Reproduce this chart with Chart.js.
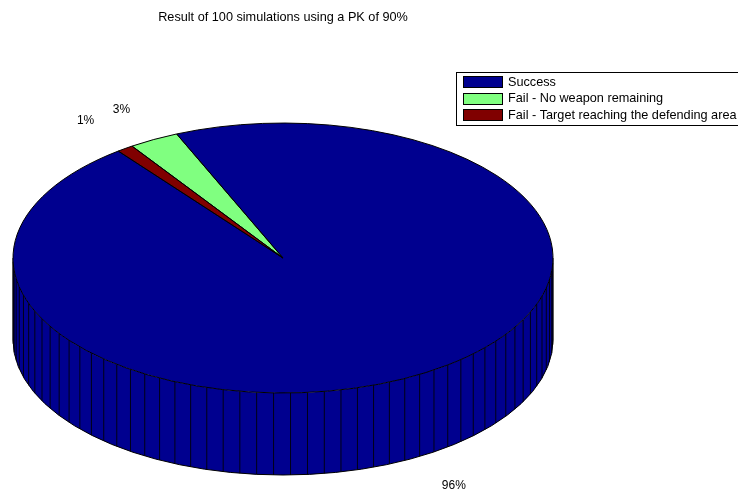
<!DOCTYPE html>
<html>
<head>
<meta charset="utf-8">
<script src="https://cdn.jsdelivr.net/npm/chart.js@4.4.1/dist/chart.umd.min.js"></script>
<style>
  html, body { margin: 0; padding: 0; background: #fff; }
  #wrap { width: 738px; height: 492px; }
</style>
</head>
<body>
<div id="wrap"><canvas id="c"></canvas></div>
<script>
// Outcome categories and how many of the 100 runs ended in each
const categories = ['Success', 'Fail - No weapon remaining', 'Fail - Target reaching the defending area'];
const outcomeCounts = [96, 3, 1];
const sliceColors = ['rgb(0,0,143)', 'rgb(128,255,128)', 'rgb(128,0,0)'];
const chartTitle = 'Result of 100 simulations using a PK of 90%';

const FONT = '"Liberation Sans", Arial, Helvetica, sans-serif';
const TEXT_SIZE = 12.7;        // title and legend
const LABEL_SIZE = 12;         // percentage labels
const DEPTH = 82;              // height of the cylinder wall in px
const LABEL_RADIUS = 1.25;     // percentage labels sit outside the rim
const FACETS_PER_TURN = 100;   // wall is split into facets, 100 per full turn

// Ellipse geometry: the round pie is stretched to fill the chart area
function geometry(chart) {
  const meta = chart.getDatasetMeta(0);
  const a = chart.chartArea;
  const first = meta.data[0];
  return {
    cx: first.x, cy: first.y,
    rx: (a.right - a.left) / 2, ry: (a.bottom - a.top) / 2,
    r: first.outerRadius,
    arcs: meta.data
  };
}

// Chart.js angle (clockwise, unmirrored) -> screen angle after the mirror
const toScreen = phi => phi + Math.PI;

function sliceRange(arc) {
  return [toScreen(arc.startAngle), toScreen(arc.endAngle)];
}

const pie3d = {
  id: 'pie3d',
  beforeDatasetsDraw(chart) {
    const ctx = chart.ctx;
    const g = geometry(chart);
    const ds = chart.data.datasets[0];
    const total = ds.data.reduce((s, v) => s + v, 0);
    const TAU = Math.PI * 2;

    // cylinder wall: only the front half (screen angles pi..2pi) is visible
    ctx.save();
    g.arcs.forEach((arc, i) => {
      const [ts, te] = sliceRange(arc);
      ctx.fillStyle = ds.backgroundColor[i];
      for (let m = -2; m <= 4; m += 2) {
        const off = m * Math.PI;
        const a = Math.max(ts, Math.PI + off);
        const b = Math.min(te, TAU + off);
        if (a < b) {
          const a0 = a - off, b0 = b - off;
          ctx.beginPath();
          ctx.ellipse(g.cx, g.cy, g.rx, g.ry, 0, -a0, -b0, true);
          ctx.ellipse(g.cx, g.cy + DEPTH, g.rx, g.ry, 0, -b0, -a0, false);
          ctx.closePath();
          ctx.fill();
        }
      }
    });

    // facet edges on the wall
    ctx.strokeStyle = 'rgba(0,0,0,0.85)';
    ctx.lineWidth = 1;
    g.arcs.forEach((arc, i) => {
      const [ts, te] = sliceRange(arc);
      const n = Math.max(1, Math.ceil(FACETS_PER_TURN * ds.data[i] / total));
      for (let k = 0; k <= n; k++) {
        const t = ts + k * (te - ts) / n;
        const s = Math.sin(t);
        if (s < -1e-6) {
          const x = g.cx + g.rx * Math.cos(t);
          const y = g.cy - g.ry * s;
          ctx.beginPath();
          ctx.moveTo(x, y);
          ctx.lineTo(x, y + DEPTH);
          ctx.stroke();
        }
      }
    });

    // silhouette of the wall
    ctx.strokeStyle = '#000';
    ctx.beginPath();
    ctx.moveTo(g.cx - g.rx, g.cy);
    ctx.lineTo(g.cx - g.rx, g.cy + DEPTH);
    ctx.ellipse(g.cx, g.cy + DEPTH, g.rx, g.ry, 0, Math.PI, 0, true);
    ctx.lineTo(g.cx + g.rx, g.cy);
    ctx.stroke();
    ctx.restore();

    // top face: mirror horizontally and stretch the library's round pie into the ellipse
    ctx.save();
    ctx.translate(g.cx, g.cy);
    ctx.scale(-g.rx / g.r, g.ry / g.r);
    ctx.translate(-g.cx, -g.cy);
  },
  afterDatasetsDraw(chart) {
    const ctx = chart.ctx;
    ctx.restore();
    const g = geometry(chart);
    const ds = chart.data.datasets[0];
    const total = ds.data.reduce((s, v) => s + v, 0);

    // slice outlines on the top face
    ctx.save();
    ctx.strokeStyle = '#000';
    ctx.lineWidth = 1;
    ctx.lineJoin = 'round';
    g.arcs.forEach(arc => {
      const [ts, te] = sliceRange(arc);
      ctx.beginPath();
      ctx.moveTo(g.cx, g.cy);
      ctx.lineTo(g.cx + g.rx * Math.cos(ts), g.cy - g.ry * Math.sin(ts));
      ctx.ellipse(g.cx, g.cy, g.rx, g.ry, 0, -ts, -te, true);
      ctx.closePath();
      ctx.stroke();
    });

    // percentage labels
    ctx.fillStyle = '#000';
    ctx.font = LABEL_SIZE + 'px ' + FONT;
    ctx.textAlign = 'center';
    ctx.textBaseline = 'middle';
    g.arcs.forEach((arc, i) => {
      const [ts, te] = sliceRange(arc);
      const tm = (ts + te) / 2;
      const s = Math.sin(tm);
      const x = g.cx + LABEL_RADIUS * g.rx * Math.cos(tm);
      const y = g.cy - LABEL_RADIUS * g.ry * s + (s < 0 ? DEPTH : 0);
      ctx.fillText(Math.round(100 * ds.data[i] / total) + '%', x, y);
    });
    ctx.restore();
  }
};

// boxed legend in the upper right corner
const boxLegend = {
  id: 'boxLegend',
  afterDraw(chart) {
    const ctx = chart.ctx;
    const ds = chart.data.datasets[0];
    const labels = chart.data.labels;
    const left = 456, top = 72, rowH = 16.5, firstRow = 10;
    const swX = left + 7, swW = 40, swH = 12, textX = left + 52;
    ctx.save();
    ctx.font = TEXT_SIZE + 'px ' + FONT;
    const widest = Math.max(...labels.map(l => ctx.measureText(l).width));
    const w = textX - left + widest + 6;
    const h = firstRow + (labels.length - 1) * rowH + 10;
    ctx.fillStyle = '#fff';
    ctx.fillRect(left, top, w, h);
    ctx.strokeStyle = '#000';
    ctx.lineWidth = 1;
    ctx.strokeRect(left + 0.5, top + 0.5, w, h);
    ctx.textAlign = 'left';
    ctx.textBaseline = 'middle';
    labels.forEach((lab, i) => {
      const cy = top + firstRow + rowH * i;
      const sy = Math.round(cy - swH / 2);
      ctx.fillStyle = ds.backgroundColor[i];
      ctx.fillRect(swX, sy, swW, swH);
      ctx.strokeStyle = '#000';
      ctx.strokeRect(swX + 0.5, sy + 0.5, swW - 1, swH - 1);
      ctx.fillStyle = '#000';
      ctx.fillText(lab, textX, cy);
    });
    ctx.restore();
  }
};

new Chart(document.getElementById('c'), {
  type: 'pie',
  data: {
    labels: categories,
    datasets: [{
      data: outcomeCounts,
      backgroundColor: sliceColors,
      borderWidth: 0,
      hoverOffset: 0,
      clip: false
    }]
  },
  options: {
    responsive: true,
    maintainAspectRatio: false,
    devicePixelRatio: 1,
    animation: false,
    rotation: 37.6,
    layout: { padding: { left: 13, right: 185, top: 0, bottom: 99 } },
    events: [],
    plugins: {
      legend: { display: false },
      tooltip: { enabled: false },
      title: {
        display: true,
        text: chartTitle,
        color: '#000',
        font: { family: FONT, size: TEXT_SIZE, weight: 'normal', lineHeight: 1.2 },
        padding: { top: 9.4, bottom: 98.4 }
      }
    }
  },
  plugins: [pie3d, boxLegend]
});
</script>
</body>
</html>
